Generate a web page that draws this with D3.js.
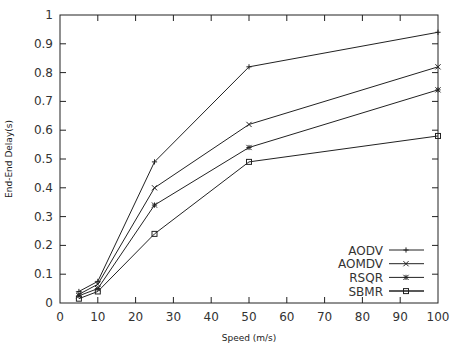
<!DOCTYPE html>
<html lang="en">
<head>
    <meta charset="UTF-8">
    <title>End-End Delay vs Speed</title>
    <script src="https://cdn.jsdelivr.net/npm/d3@7"></script>
    <style>
        body { margin: 0; background: #fff; }
        svg { display: block; }
    </style>
</head>
<body>
<svg></svg>
<script>
    const speeds = [5, 10, 25, 50, 100];
    const protocols = ["AODV", "AOMDV", "RSQR", "SBMR"];
    const aodv = [0.04, 0.075, 0.49, 0.82, 0.94];
    const aomdv = [0.03, 0.065, 0.40, 0.62, 0.82];
    const rsqr = [0.025, 0.05, 0.34, 0.54, 0.74];
    const sbmr = [0.015, 0.04, 0.24, 0.49, 0.58];
    const xTicks = [0, 10, 20, 30, 40, 50, 60, 70, 80, 90, 100];
    const yTicks = [0, 0.1, 0.2, 0.3, 0.4, 0.5, 0.6, 0.7, 0.8, 0.9, 1];

    const seriesValues = [aodv, aomdv, rsqr, sbmr];
    const markers = ["plus", "cross", "star", "square"];

    const width = 460, height = 347;
    const margin = {top: 15, right: 22, bottom: 44, left: 60};
    const iw = width - margin.left - margin.right,
        ih = height - margin.top - margin.bottom;

    const svg = d3.select("svg")
        .attr("width", width)
        .attr("height", height)
        .style("font-family", "'DejaVu Sans', sans-serif");

    const x = d3.scaleLinear().domain([0, 100]).range([margin.left, margin.left + iw]);
    const y = d3.scaleLinear().domain([0, 1]).range([margin.top + ih, margin.top]);

    const ink = "#222";
    const tickLen = 6;

    // frame + inward ticks on all sides
    const axes = svg.append("g").attr("stroke", ink).attr("stroke-width", 1);
    axes.append("rect")
        .attr("x", x(0)).attr("y", y(1))
        .attr("width", x(100) - x(0)).attr("height", y(0) - y(1))
        .attr("fill", "none");

    axes.selectAll(".xt")
        .data(xTicks.slice(1, -1))
        .join("path")
        .attr("d", d => `M${x(d)},${y(0)}v${-tickLen}M${x(d)},${y(1)}v${tickLen}`);
    axes.selectAll(".yt")
        .data(yTicks.slice(1, -1))
        .join("path")
        .attr("d", d => `M${x(0)},${y(d)}h${tickLen}M${x(100)},${y(d)}h${-tickLen}`);

    svg.append("g")
        .attr("font-size", 12)
        .attr("fill", "#333")
        .attr("text-anchor", "middle")
        .selectAll("text")
        .data(xTicks)
        .join("text")
        .attr("x", d => x(d))
        .attr("y", y(0) + 18)
        .text(d => d);

    svg.append("g")
        .attr("font-size", 12)
        .attr("fill", "#333")
        .attr("text-anchor", "end")
        .selectAll("text")
        .data(yTicks)
        .join("text")
        .attr("x", x(0) - 7)
        .attr("y", d => y(d) + 4)
        .text(d => d);

    svg.append("text")
        .attr("x", (x(0) + x(100)) / 2)
        .attr("y", height - 6)
        .attr("text-anchor", "middle")
        .attr("font-size", 9)
        .attr("fill", ink)
        .text("Speed (m/s)");

    svg.append("text")
        .attr("transform", `translate(12,${(y(0) + y(1)) / 2}) rotate(-90)`)
        .attr("text-anchor", "middle")
        .attr("font-size", 9)
        .attr("fill", ink)
        .text("End-End Delay(s)");

    function marker(g, type) {
        const s = 2.6;
        if (type === "plus") {
            g.append("path").attr("d", `M${-s},0h${2 * s}M0,${-s}v${2 * s}`);
        } else if (type === "cross") {
            g.append("path").attr("d", `M${-s},${-s}L${s},${s}M${-s},${s}L${s},${-s}`);
        } else if (type === "star") {
            g.append("path").attr("d", `M${-s},0h${2 * s}M0,${-s}v${2 * s}M${-s},${-s}L${s},${s}M${-s},${s}L${s},${-s}`);
        } else {
            g.append("rect").attr("x", -2.5).attr("y", -2.5).attr("width", 5).attr("height", 5).attr("fill", "none");
        }
    }

    const line = d3.line().x(d => x(d[0])).y(d => y(d[1]));

    seriesValues.forEach((vals, i) => {
        const pts = speeds.map((s, j) => [s, vals[j]]);
        const g = svg.append("g").attr("stroke", ink).attr("fill", "none").attr("stroke-width", 1);
        g.append("path").attr("d", line(pts));
        pts.forEach(p => {
            marker(g.append("g").attr("transform", `translate(${x(p[0])},${y(p[1])})`), markers[i]);
        });
    });

    // legend
    const legend = svg.append("g");
    protocols.forEach((name, i) => {
        const ly = 250 + i * 13.7;
        legend.append("text")
            .attr("x", 383)
            .attr("y", ly + 4.5)
            .attr("text-anchor", "end")
            .attr("font-size", 12)
            .attr("fill", "#333")
            .text(name);
        const g = legend.append("g").attr("stroke", ink).attr("fill", "none");
        g.append("path").attr("d", `M389,${ly}H424`).attr("stroke-width", i === 3 ? 1.5 : 1);
        marker(g.append("g").attr("transform", `translate(406,${ly})`), markers[i]);
    });
</script>
</body>
</html>
